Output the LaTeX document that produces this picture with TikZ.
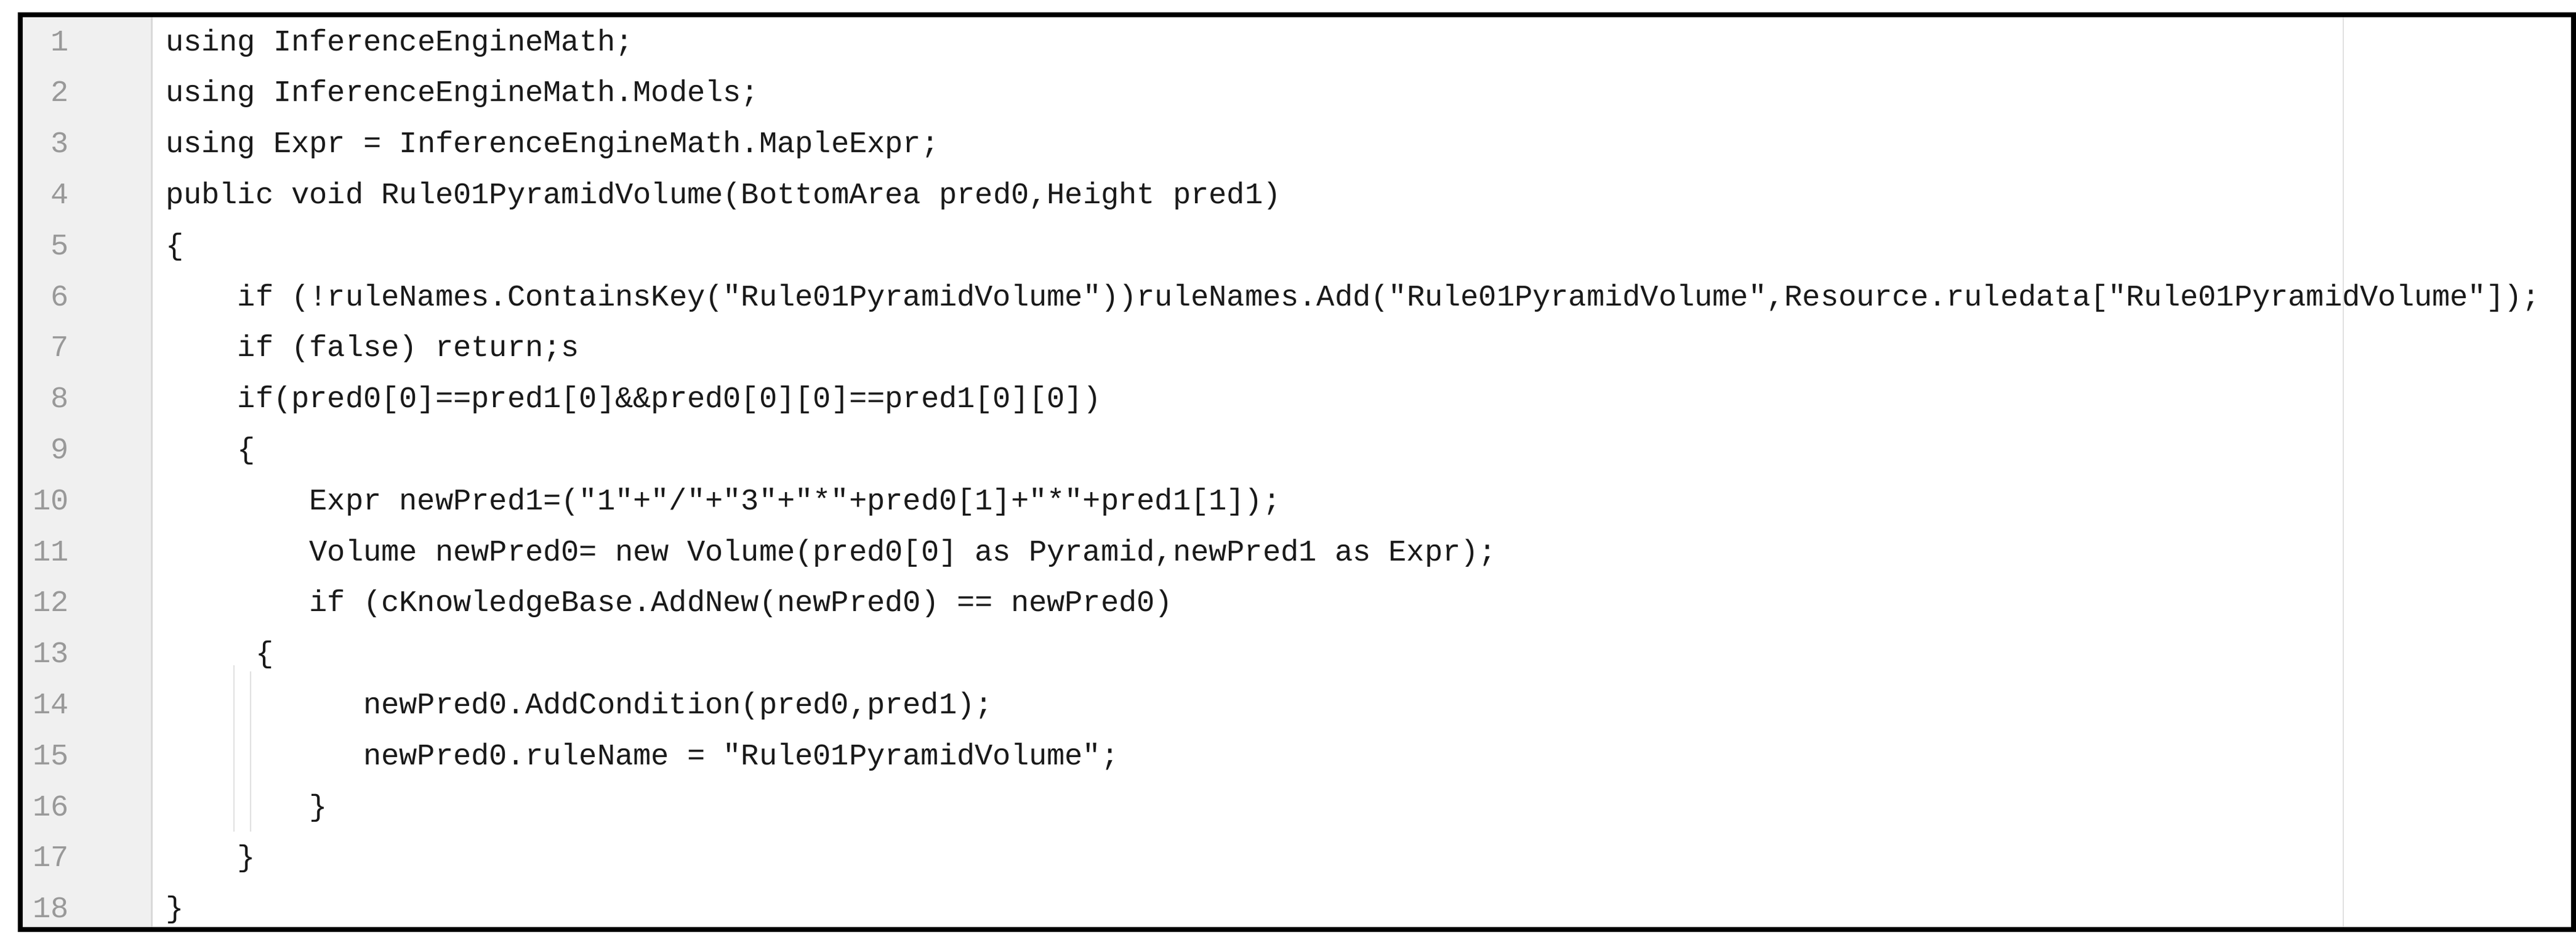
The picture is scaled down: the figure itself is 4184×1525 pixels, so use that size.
\documentclass[tikz,border=0pt]{standalone}
\usepackage{fontspec}
\setmonofont{Liberation Mono}
\begin{document}
\begin{tikzpicture}[x=0.1pt,y=-0.1pt,
  code/.style={anchor=base west,inner sep=0,font=\fontsize{4.87pt}{5pt}\ttfamily,text=black!90},
  num/.style={anchor=base east,inner sep=0,font=\fontsize{4.87pt}{5pt}\ttfamily,text=black!40},
  guide/.style={draw=black!12,line width=0.25pt}]
\useasboundingbox (0,0) rectangle (4184,1525);
\fill[white] (0,0) rectangle (4184,1525);
\fill[black!6] (36,28) rectangle (246,1505);
\draw[black!15,line width=0.3pt] (246,28) -- (246,1505);
\draw[guide] (3806,28) -- (3806,1505);
\coordinate (g1a) at (380,1080); \coordinate (g1b) at (380,1350);
\coordinate (g2a) at (407,1090); \coordinate (g2b) at (407,1350);
\draw[guide] (g1a) -- (g1b);
\draw[guide] (g2a) -- (g2b);
\foreach \i in {1,...,18} { \node[num] (n\i) at (114,{82+82.8*(\i-1)}) {\i}; }
\def\cx#1{{267+29.2*#1}}
\def\cy#1{{82+82.8*(#1-1)}}
\node[code] (l1) at (\cx{0},\cy{1}) {using InferenceEngineMath;};
\node[code] (l2) at (\cx{0},\cy{2}) {using InferenceEngineMath.Models;};
\node[code] (l3) at (\cx{0},\cy{3}) {using Expr = InferenceEngineMath.MapleExpr;};
\node[code] (l4) at (\cx{0},\cy{4}) {public void Rule01PyramidVolume(BottomArea pred0,Height pred1)};
\node[code] (l5) at (\cx{0},\cy{5}) {\{};
\node[code] (l6) at (\cx{4},\cy{6}) {if (!ruleNames.ContainsKey("Rule01PyramidVolume"))ruleNames.Add("Rule01PyramidVolume",Resource.ruledata["Rule01PyramidVolume"]);};
\node[code] (l7) at (\cx{4},\cy{7}) {if (false) return;s};
\node[code] (l8) at (\cx{4},\cy{8}) {if(pred0[0]==pred1[0]\&\&pred0[0][0]==pred1[0][0])};
\node[code] (l9) at (\cx{4},\cy{9}) {\{};
\node[code] (l10) at (\cx{8},\cy{10}) {Expr newPred1=("1"+"/"+"3"+"*"+pred0[1]+"*"+pred1[1]);};
\node[code] (l11) at (\cx{8},\cy{11}) {Volume newPred0= new Volume(pred0[0] as Pyramid,newPred1 as Expr);};
\node[code] (l12) at (\cx{8},\cy{12}) {if (cKnowledgeBase.AddNew(newPred0) == newPred0)};
\node[code] (l13) at (\cx{5},\cy{13}) {\{};
\node[code] (l14) at (\cx{11},\cy{14}) {newPred0.AddCondition(pred0,pred1);};
\node[code] (l15) at (\cx{11},\cy{15}) {newPred0.ruleName = "Rule01PyramidVolume";};
\node[code] (l16) at (\cx{8},\cy{16}) {\}};
\node[code] (l17) at (\cx{4},\cy{17}) {\}};
\node[code] (l18) at (\cx{0},\cy{18}) {\}};
\draw[black,line width=0.8pt] (33,24) rectangle (4180,1509);
\end{tikzpicture}
\end{document}
